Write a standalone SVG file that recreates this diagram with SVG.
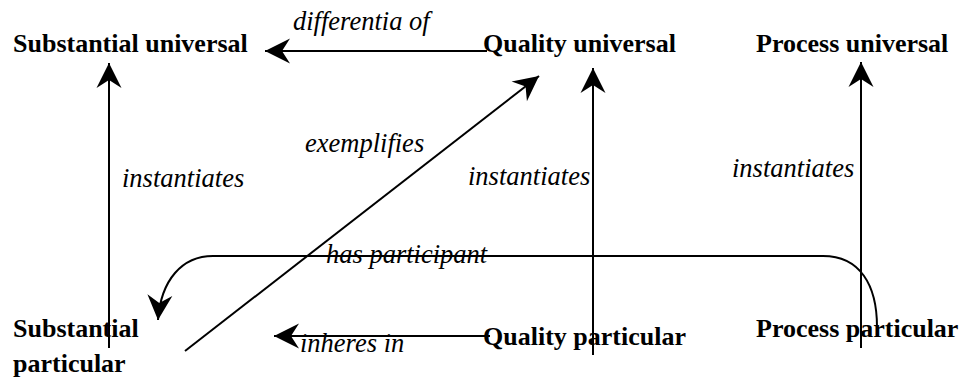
<svg xmlns="http://www.w3.org/2000/svg" width="967" height="379" viewBox="0 0 967 379">
<style>
.n{font-family:"Liberation Serif","Tinos","Nimbus Roman","Times New Roman","Noto Serif","DejaVu Serif",serif;font-weight:bold;font-size:26px;fill:#000}
.l{font-family:"Liberation Serif","Tinos","Nimbus Roman","Times New Roman","Noto Serif","DejaVu Serif",serif;font-style:italic;font-size:26.5px;fill:#000}
.c{fill:none;stroke:#000;stroke-width:2}
</style>
<defs>
<marker id="ah" viewBox="-26 -14 28 28" refX="0" refY="0" markerWidth="28" markerHeight="28" markerUnits="userSpaceOnUse" orient="auto">
<path d="M0,0 L-25,-12.5 L-17,0 L-25,12.5 Z" fill="#000"/>
</marker>
</defs>
<rect width="967" height="379" fill="#fff"/>
<g id="connectors">
<path class="c" d="M487,51 L265,51" marker-end="url(#ah)"/>
<path class="c" d="M109,348 L109,63" marker-end="url(#ah)"/>
<path class="c" d="M593,355 L593,68" marker-end="url(#ah)"/>
<path class="c" d="M861,348 L861,62" marker-end="url(#ah)"/>
<path class="c" d="M185,351 L539,76" marker-end="url(#ah)"/>
<path class="c" d="M490,336 L274,336" marker-end="url(#ah)"/>
<path class="c" d="M877,327 C877,285 860,256 823,256 L213,256 C182,256 161,280 158,320" marker-end="url(#ah)"/>
<text class="l" x="293" y="30">differentia of</text>
<text class="l" x="305" y="152">exemplifies</text>
<text class="l" x="122" y="187">instantiates</text>
<text class="l" x="468" y="185">instantiates</text>
<text class="l" x="732" y="177">instantiates</text>
<text class="l" x="326" y="263">has participant</text>
<text class="l" x="300" y="352">inheres in</text>
</g>
<g id="substantial-universal"><text class="n" x="13" y="52">Substantial universal</text></g>
<g id="quality-universal"><text class="n" x="483" y="52">Quality universal</text></g>
<g id="process-universal"><text class="n" x="756" y="52">Process universal</text></g>
<g id="substantial-particular"><text class="n" x="13" y="337">Substantial</text><text class="n" x="13" y="372">particular</text></g>
<g id="quality-particular"><text class="n" x="483" y="345">Quality particular</text></g>
<g id="process-particular"><text class="n" x="756" y="337">Process particular</text></g>
</svg>
